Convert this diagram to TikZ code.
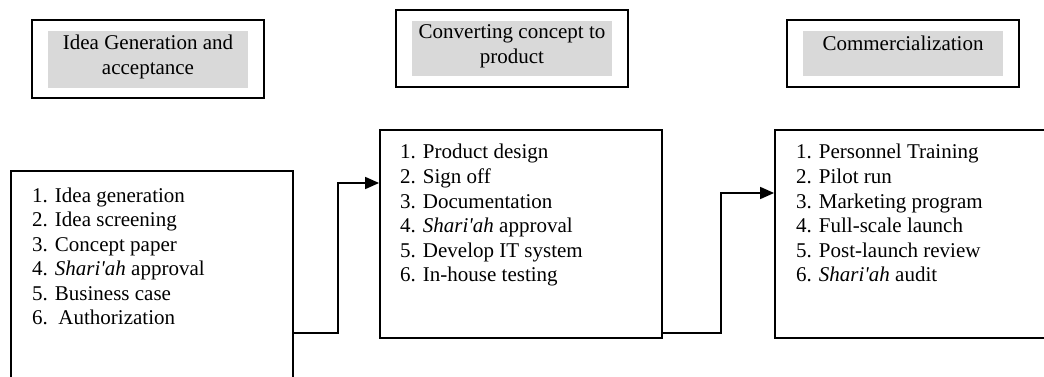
\documentclass[tikz,border=0pt]{standalone}
\usepackage{fontspec}
\setmainfont{Liberation Serif}
\usetikzlibrary{arrows.meta}
\definecolor{shade}{RGB}{217,217,217}
\tikzset{
  phasebox/.style={draw, line width=2pt, inner sep=0pt},
  shadebox/.style={fill=shade, inner sep=0pt},
  listbox/.style={draw, line width=1.8pt, inner sep=0pt},
  txt/.style={inner sep=0pt, font=\fontsize{21}{24.5}\selectfont},
  conn/.style={line width=1.6pt, -{Triangle[length=14pt,width=12pt]}}
}
\newcommand{\Sh}{\textit{Shari\textquotesingle ah}}
\begin{document}
\begin{tikzpicture}[x=1pt,y=-1pt]
\useasboundingbox (0,0) rectangle (1044,377);
\clip (0,0) rectangle (1044,377);

% phase headings
\node[phasebox, minimum width=232pt, minimum height=78pt] (h1) at (148,59) {};
\node[shadebox, minimum width=200pt, minimum height=57pt] (g1) at (148,59.5) {};
\node[txt, anchor=base] (t1) at (148,50)
  {\begin{tabular}[t]{@{}c@{}}Idea Generation and\\acceptance\end{tabular}};

\node[phasebox, minimum width=232pt, minimum height=77pt] (h2) at (512,48.5) {};
\node[shadebox, minimum width=200pt, minimum height=55pt] (g2) at (512,48.5) {};
\node[txt, anchor=base] (t2) at (512,39)
  {\begin{tabular}[t]{@{}c@{}}Converting concept to\\product\end{tabular}};

\node[phasebox, minimum width=232pt, minimum height=67pt] (h3) at (903,53.5) {};
\node[shadebox, minimum width=200pt, minimum height=45pt] (g3) at (903,53.5) {};
\node[txt, anchor=base] (t3) at (903,51) {Commercialization};

% activity lists
\node[listbox, minimum width=282pt, minimum height=249pt] (b1) at (152,295.5) {};
\node[txt, anchor=base west] (l1) at (32,202)
  {\begin{tabular}[t]{@{}l@{}}
   1. Idea generation\\
   2. Idea screening\\
   3. Concept paper\\
   4. \Sh{} approval\\
   5. Business case\\
   6.\ \ Authorization
   \end{tabular}};

\node[listbox, minimum width=282pt, minimum height=208pt] (b2) at (521,234) {};
\node[txt, anchor=base west] (l2) at (400,159)
  {\begin{tabular}[t]{@{}l@{}}
   1. Product design\\
   2. Sign off\\
   3. Documentation\\
   4. \Sh{} approval\\
   5. Develop IT system\\
   6. In-house testing
   \end{tabular}};

\node[listbox, minimum width=300pt, minimum height=208pt] (b3) at (925,234) {};
\node[txt, anchor=base west] (l3) at (796,159)
  {\begin{tabular}[t]{@{}l@{}}
   1. Personnel Training\\
   2. Pilot run\\
   3. Marketing program\\
   4. Full-scale launch\\
   5. Post-launch review\\
   6. \Sh{} audit
   \end{tabular}};

% connectors between stages
\coordinate (y1) at (0,333);
\coordinate (k1) at (338,183);
\coordinate (k2) at (721,193);
\draw[conn] (b1.east |- y1) -| (k1) -- (b2.west |- k1);
\draw[conn] (b2.east |- y1) -| (k2) -- (b3.west |- k2);
\end{tikzpicture}
\end{document}
